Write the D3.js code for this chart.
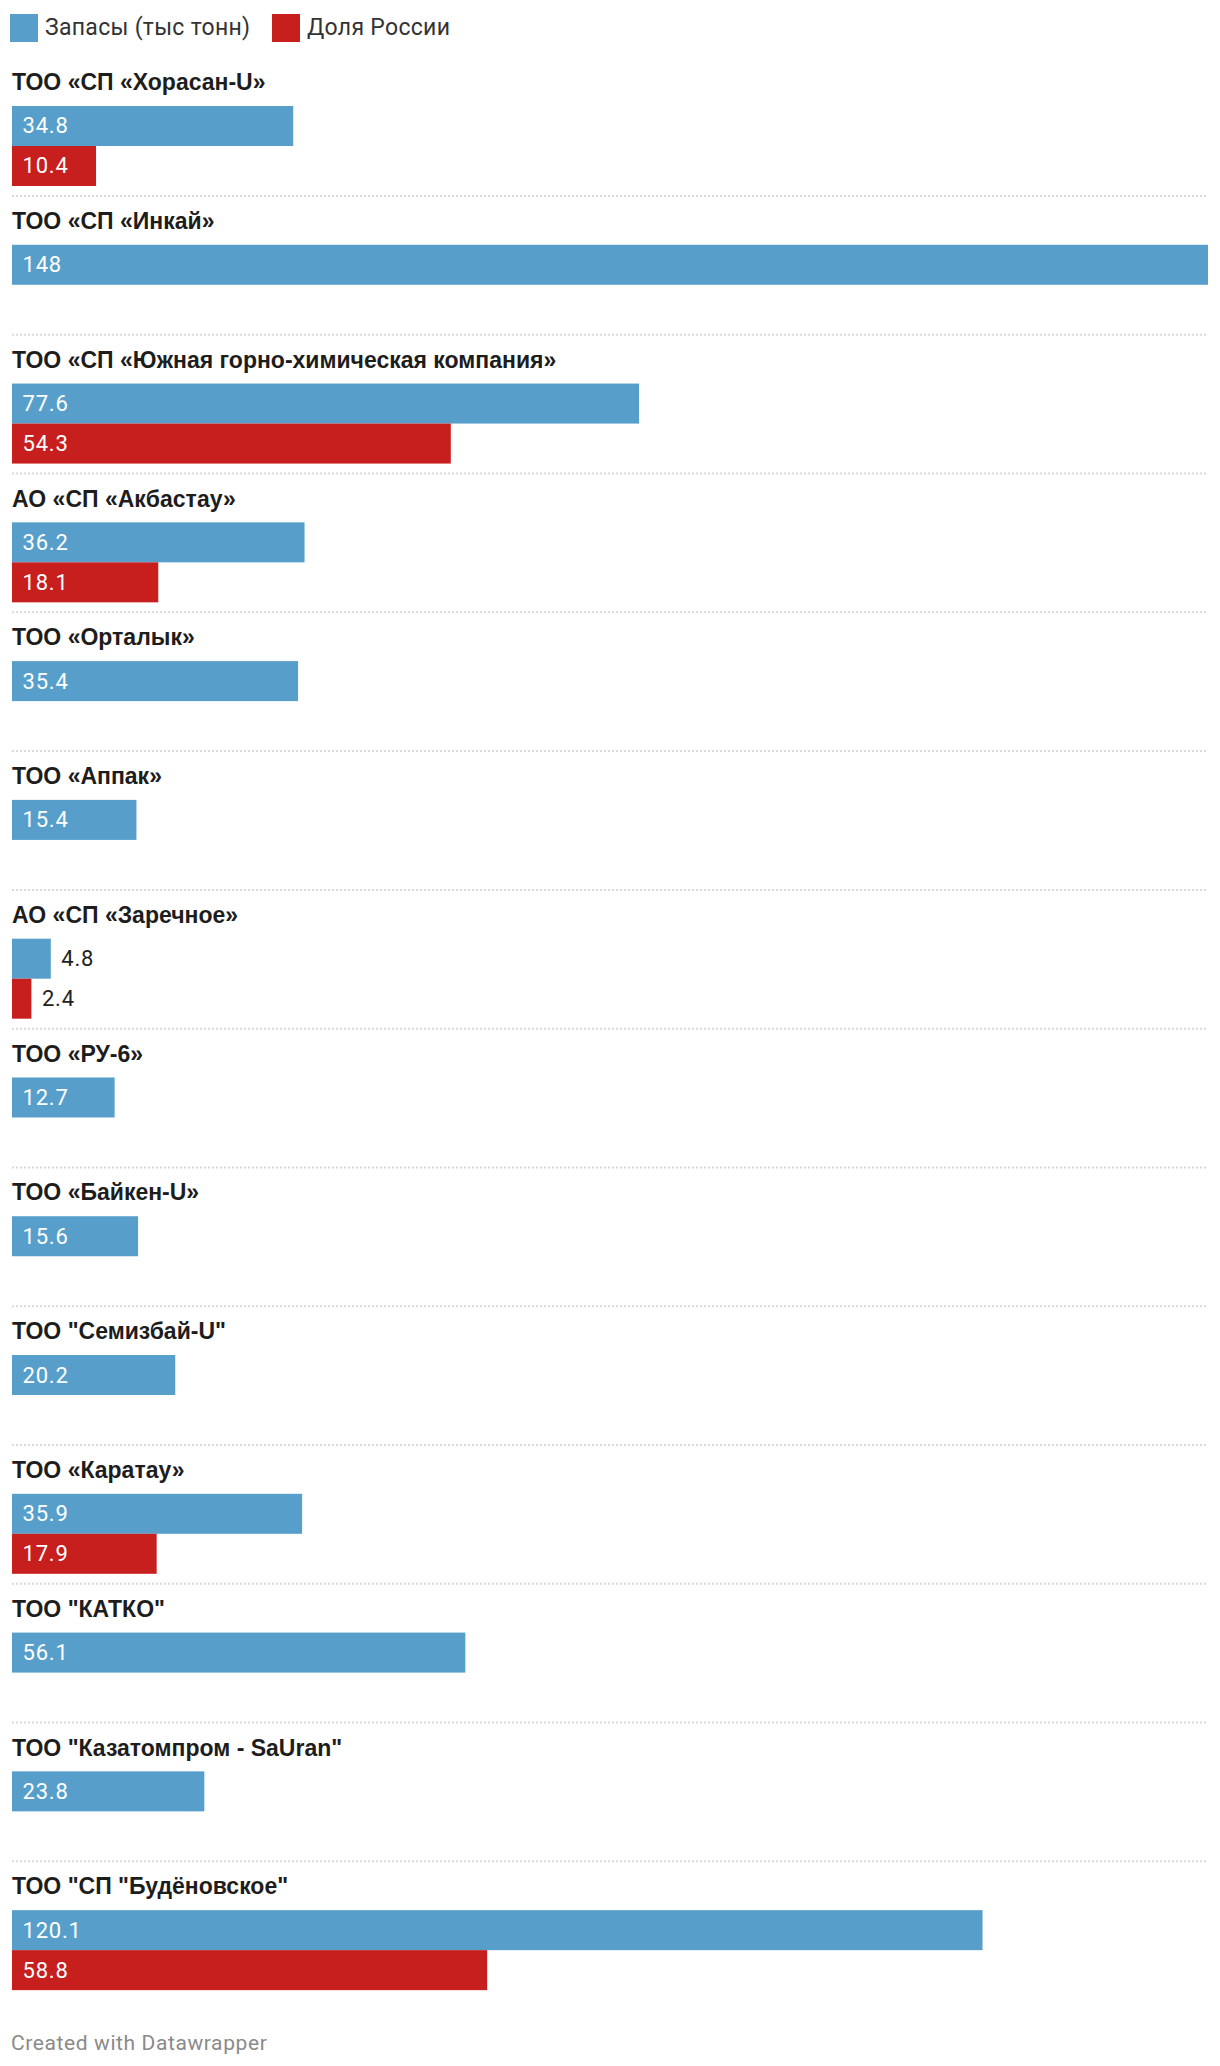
<!DOCTYPE html>
<html>
<head>
<meta charset="utf-8">
<script src="https://cdn.jsdelivr.net/npm/d3@7"></script>
<style>
  html, body { margin: 0; padding: 0; background: #fff; }
  svg { display: block; font-family: Roboto, "Noto Sans", sans-serif; }
</style>
</head>
<body>
<svg id="chart" width="1220" height="2066"></svg>
<script>
const categories = [
  "ТОО «СП «Хорасан-U»",
  "ТОО «СП «Инкай»",
  "ТОО «СП «Южная горно-химическая компания»",
  "АО «СП «Акбастау»",
  "ТОО «Орталык»",
  "ТОО «Аппак»",
  "АО «СП «Заречное»",
  "ТОО «РУ-6»",
  "ТОО «Байкен-U»",
  "ТОО \"Семизбай-U\"",
  "ТОО «Каратау»",
  "ТОО \"КАТКО\"",
  "ТОО \"Казатомпром - SaUran\"",
  "ТОО \"СП \"Будёновское\""
];
const reserves = [34.8, 148, 77.6, 36.2, 35.4, 15.4, 4.8, 12.7, 15.6, 20.2, 35.9, 56.1, 23.8, 120.1];
const russiaShare = [10.4, null, 54.3, 18.1, null, null, 2.4, null, null, null, 17.9, null, null, 58.8];
const seriesNames = ["Запасы (тыс тонн)", "Доля России"];
const seriesColors = ["#579fca", "#c71e1e"];
const footerText = "Created with Datawrapper";

const svg = d3.select("#chart");

// Legend
const legend = svg.append("g");
const legendX = [10, 272];
seriesNames.forEach((name, i) => {
  legend.append("rect").attr("x", legendX[i]).attr("y", 14).attr("width", 28).attr("height", 28)
    .attr("fill", seriesColors[i]);
  legend.append("text").attr("x", legendX[i] + 35).attr("y", 34.5)
    .attr("font-size", 23).attr("letter-spacing", 0.3).attr("fill", "#333").text(name);
});

// Scales
const x = d3.scaleLinear().domain([0, d3.max(reserves)]).range([12, 1208]);
const yGroup = d3.scaleBand().domain(categories).range([57.2, 57.2 + categories.length * 138.78]).padding(0);
const ySeries = d3.scaleBand().domain([0, 1]).range([48.8, 128.8]).padding(0);

const rows = categories.map((c, i) => ({ name: c, values: [reserves[i], russiaShare[i]] }));

const groups = svg.selectAll("g.row").data(rows).join("g")
  .attr("class", "row")
  .attr("transform", d => `translate(0,${yGroup(d.name)})`);

groups.append("text")
  .attr("x", 12).attr("y", 33)
  .attr("font-family", "'Liberation Sans', Arial, Helvetica, sans-serif")
  .attr("font-size", 23).attr("font-weight", 700).attr("fill", "#1d1d1d")
  .text(d => d.name);

groups.each(function(d, gi) {
  const g = d3.select(this);
  d.values.forEach((v, si) => {
    if (v == null) return;
    const y0 = ySeries(si);
    const w = x(v) - x(0);
    g.append("rect").attr("x", x(0)).attr("y", y0).attr("width", w).attr("height", ySeries.bandwidth())
      .attr("fill", seriesColors[si]);
    const label = g.append("text").attr("y", y0 + ySeries.bandwidth() / 2 + 7.5)
      .attr("font-size", 22).attr("letter-spacing", 0.8).text(String(v));
    const lw = label.node().getComputedTextLength();
    if (w > lw + 22) {
      label.attr("x", x(0) + 10.5).attr("fill", "#fff");
    } else {
      label.attr("x", x(v) + 10.5).attr("fill", "#222");
    }
  });
  if (gi < rows.length - 1) {
    g.append("line").attr("x1", 12).attr("x2", 1208)
      .attr("y1", yGroup.step()).attr("y2", yGroup.step())
      .attr("stroke", "#d9d9d9").attr("stroke-width", 2).attr("stroke-dasharray", "2,2");
  }
});

svg.append("text").attr("x", 11).attr("y", 2050)
  .attr("font-size", 21).attr("letter-spacing", 0.6).attr("fill", "#8a8a8a").text(footerText);
</script>
</body>
</html>
